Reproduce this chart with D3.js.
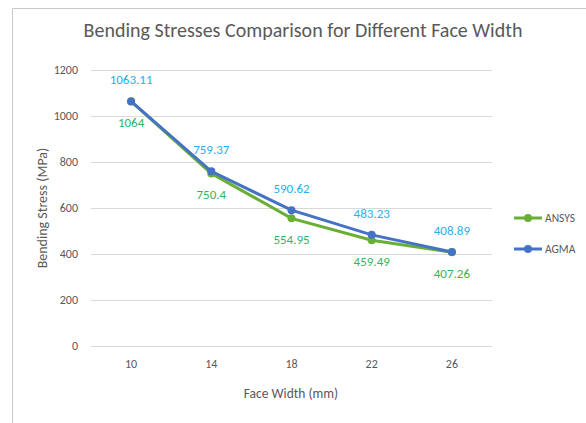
<!DOCTYPE html>
<html>
<head>
<meta charset="utf-8">
<script src="https://cdn.jsdelivr.net/npm/d3@7"></script>
<style>
  body { margin: 0; background: #fff; }
  svg { display: block; font-family: Calibri, Carlito, "Open Sans", sans-serif; }
</style>
</head>
<body>
<div id="chart"></div>
<script>
const faceWidths = ["10", "14", "18", "22", "26"];
const ansys = [1064, 750.4, 554.95, 459.49, 407.26];
const agma = [1063.11, 759.37, 590.62, 483.23, 408.89];
const ansysLabels = ["1064", "750.4", "554.95", "459.49", "407.26"];
const agmaLabels = ["1063.11", "759.37", "590.62", "483.23", "408.89"];
const yTicks = [0, 200, 400, 600, 800, 1000, 1200];

const width = 586, height = 423;
const svg = d3.select("#chart").append("svg")
    .attr("width", width)
    .attr("height", height);

// frame of the chart area
svg.append("path")
    .attr("d", "M12.5," + height + "V8.5H" + width)
    .attr("fill", "none")
    .attr("stroke", "#c9c9c9");

const x = d3.scaleBand().domain(faceWidths).range([91, 492]);
const y = d3.scaleLinear().domain([0, 1200]).range([346, 70]);

// gridlines
svg.append("g").selectAll("line")
    .data(yTicks)
    .join("line")
    .attr("x1", 91).attr("x2", 492)
    .attr("y1", d => y(d) + 0.5).attr("y2", d => y(d) + 0.5)
    .attr("stroke", "#d9d9d9");

// y tick labels
svg.append("g").selectAll("text")
    .data(yTicks)
    .join("text")
    .attr("x", 78)
    .attr("y", d => y(d))
    .attr("dy", "0.35em")
    .attr("text-anchor", "end")
    .attr("font-size", 12)
    .attr("fill", "#595959")
    .text(d => d);

// x tick labels
svg.append("g").selectAll("text")
    .data(faceWidths)
    .join("text")
    .attr("x", d => x(d) + x.bandwidth() / 2)
    .attr("y", 368)
    .attr("text-anchor", "middle")
    .attr("font-size", 12)
    .attr("fill", "#595959")
    .text(d => d);

svg.append("text")
    .attr("x", 291).attr("y", 398)
    .attr("text-anchor", "middle")
    .attr("font-size", 13.5)
    .attr("fill", "#595959")
    .text("Face Width (mm)");

svg.append("text")
    .attr("transform", "translate(47,208) rotate(-90)")
    .attr("text-anchor", "middle")
    .attr("font-size", 14)
    .attr("fill", "#595959")
    .text("Bending Stress (MPa)");

svg.append("text")
    .attr("x", 303).attr("y", 37)
    .attr("text-anchor", "middle")
    .attr("font-size", 20)
    .attr("fill", "#595959")
    .text("Bending Stresses Comparison for Different Face Width");

const cx = (d, i) => x(faceWidths[i]) + x.bandwidth() / 2;
const line = d3.line().x(cx).y(d => y(d));

const series = [
    { name: "ANSYS", values: ansys, color: "#6aaf35" },
    { name: "AGMA", values: agma, color: "#4472c4" }
];

series.forEach(s => {
    svg.append("path")
        .datum(s.values)
        .attr("d", line)
        .attr("fill", "none")
        .attr("stroke", s.color)
        .attr("stroke-width", 3);
    svg.append("g").selectAll("circle")
        .data(s.values)
        .join("circle")
        .attr("cx", cx)
        .attr("cy", d => y(d))
        .attr("r", 4)
        .attr("fill", s.color);
});

// data labels
svg.append("g").selectAll("text")
    .data(agma)
    .join("text")
    .attr("x", cx)
    .attr("y", d => y(d) - 17)
    .attr("text-anchor", "middle")
    .attr("font-size", 13)
    .attr("fill", "#29aef0")
    .text((d, i) => agmaLabels[i]);

svg.append("g").selectAll("text")
    .data(ansys)
    .join("text")
    .attr("x", cx)
    .attr("y", d => y(d) + 26)
    .attr("text-anchor", "middle")
    .attr("font-size", 13)
    .attr("fill", "#35b45e")
    .text((d, i) => ansysLabels[i]);

// legend
const legend = svg.append("g").selectAll("g")
    .data(series)
    .join("g")
    .attr("transform", (d, i) => "translate(514," + (218 + i * 31) + ")");
legend.append("line")
    .attr("x1", 0).attr("x2", 28)
    .attr("stroke", d => d.color)
    .attr("stroke-width", 3);
legend.append("circle")
    .attr("cx", 14).attr("r", 4)
    .attr("fill", d => d.color);
legend.append("text")
    .attr("x", 31)
    .attr("dy", "0.35em")
    .attr("font-size", 11.5)
    .attr("fill", "#595959")
    .text(d => d.name);
</script>
</body>
</html>
